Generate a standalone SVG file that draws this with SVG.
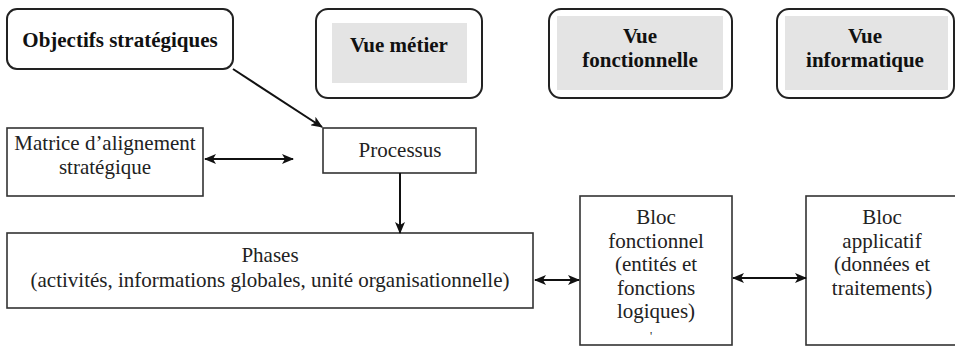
<svg xmlns="http://www.w3.org/2000/svg" width="955" height="347" viewBox="0 0 955 347">
<style>
.rb{fill:#fff;stroke:#222;stroke-width:2}
.sq{fill:#fff;stroke:#333;stroke-width:1.6}
.gr{fill:#e4e4e4;stroke:none}
text{font-family:"Liberation Serif","Times New Roman",Times,"DejaVu Serif",serif}
.t{font-size:21px;fill:#222;text-anchor:middle}
.b{font-size:21px;font-weight:bold;fill:#111;text-anchor:middle}
.c{fill:none;stroke:#111;stroke-width:2}
</style>
<defs>
<marker id="ah" viewBox="0 0 12 10" refX="11" refY="5" markerWidth="12" markerHeight="10" markerUnits="userSpaceOnUse" orient="auto-start-reverse">
<path d="M0,0 L12,5 L0,10 L3,5 z" fill="#111"/>
</marker>
</defs>
<rect width="955" height="347" fill="#fff"/>
<g id="objectifs">
<rect class="rb" x="7" y="9" width="226" height="60" rx="10"/>
<text class="b" x="120" y="47">Objectifs stratégiques</text>
</g>
<g id="vue-metier">
<rect class="rb" x="316" y="9" width="166" height="89" rx="12"/>
<rect class="gr" x="332" y="23" width="135" height="60"/>
<text class="b" x="399" y="52">Vue métier</text>
</g>
<g id="vue-fonctionnelle">
<rect class="rb" x="549" y="9" width="183" height="89" rx="12"/>
<rect class="gr" x="557" y="16" width="166" height="74"/>
<text class="b" x="640" y="43">Vue</text>
<text class="b" x="640" y="67">fonctionnelle</text>
</g>
<g id="vue-informatique">
<rect class="rb" x="777" y="9" width="177" height="89" rx="12"/>
<rect class="gr" x="785" y="16" width="163" height="74"/>
<text class="b" x="865" y="43">Vue</text>
<text class="b" x="865" y="67">informatique</text>
</g>
<g id="matrice">
<rect class="sq" x="7" y="128" width="196" height="68"/>
<text class="t" x="105" y="150">Matrice d’alignement</text>
<text class="t" x="105" y="174">stratégique</text>
</g>
<g id="processus">
<rect class="sq" x="323" y="128" width="153" height="45"/>
<text class="t" x="400" y="157">Processus</text>
</g>
<g id="phases">
<rect class="sq" x="7" y="233" width="526" height="75"/>
<text class="t" x="270" y="262">Phases</text>
<text class="t" x="270" y="287">(activités, informations globales, unité organisationnelle)</text>
</g>
<g id="bloc-fonctionnel">
<rect class="sq" x="580" y="196" width="152" height="149"/>
<text class="t" x="656" y="224">Bloc</text>
<text class="t" x="656" y="248">fonctionnel</text>
<text class="t" x="656" y="271">(entités et</text>
<text class="t" x="656" y="295">fonctions</text>
<text class="t" x="656" y="318">logiques)</text>
<text class="t" x="651" y="340" style="font-size:12px">'</text>
</g>
<g id="bloc-applicatif">
<rect class="sq" x="806" y="196" width="160" height="149"/>
<text class="t" x="882" y="224">Bloc</text>
<text class="t" x="882" y="248">applicatif</text>
<text class="t" x="882" y="271">(données et</text>
<text class="t" x="882" y="295">traitements)</text>
</g>
<g id="connectors">
<line class="c" x1="233" y1="69" x2="322" y2="127" marker-end="url(#ah)"/>
<line class="c" x1="205" y1="159" x2="293" y2="159" marker-start="url(#ah)" marker-end="url(#ah)"/>
<line class="c" x1="400" y1="173" x2="400" y2="233" marker-end="url(#ah)"/>
<line class="c" x1="535" y1="280" x2="579" y2="280" marker-start="url(#ah)" marker-end="url(#ah)"/>
<line class="c" x1="733" y1="278" x2="806" y2="278" marker-start="url(#ah)" marker-end="url(#ah)"/>
</g>
</svg>
